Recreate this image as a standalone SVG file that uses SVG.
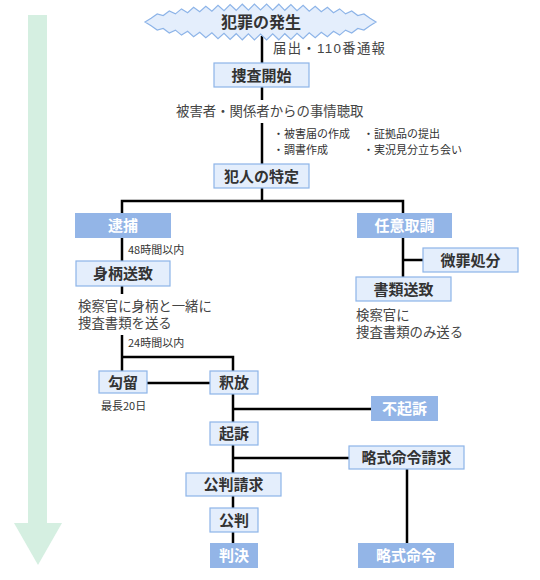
<svg xmlns="http://www.w3.org/2000/svg" width="540" height="580" viewBox="0 0 540 580">
<style>
.lt{fill:#E4EEFC;stroke:#8DB4E8;stroke-width:1.2}
.dk{fill:#93B5E7;stroke:none}
.lbl{font-family:"Noto Sans CJK JP","Noto Sans",sans-serif;font-size:15px;font-weight:bold;text-anchor:middle;fill:#333}
.wl{font-family:"Noto Sans CJK JP","Noto Sans",sans-serif;font-size:15px;font-weight:bold;text-anchor:middle;fill:#fff}
.tx{font-family:"Liberation Sans","Noto Sans CJK JP",sans-serif;font-size:13.4px;fill:#444}
.sm{font-family:"Noto Sans CJK JP","Noto Sans",sans-serif;font-size:11px;fill:#333}
.ln{stroke:#000;stroke-width:2.5;fill:none}
</style>
<g id="timeline-arrow">
<rect x="28" y="15" width="19" height="508" fill="#D5EFE1"/>
<polygon points="14,523 62,523 38,565" fill="#D5EFE1"/>
</g>
<g id="connectors" class="ln">
<line x1="262" y1="36" x2="262" y2="63"/>
<line x1="262" y1="87" x2="262" y2="100"/>
<line x1="262" y1="123" x2="262" y2="164"/>
<line x1="262" y1="188" x2="262" y2="201"/>
<polyline points="122,213 122,201 403,201 403,213"/>
<line x1="122" y1="238" x2="122" y2="261"/>
<line x1="122" y1="286" x2="122" y2="294"/>
<line x1="122" y1="335" x2="122" y2="371"/>
<polyline points="122,357 233,357 233,371"/>
<line x1="147" y1="383" x2="210" y2="383"/>
<line x1="233" y1="394" x2="233" y2="422"/>
<line x1="233" y1="409" x2="371" y2="409"/>
<line x1="233" y1="445" x2="233" y2="473"/>
<line x1="233" y1="458" x2="349" y2="458"/>
<line x1="233" y1="496" x2="233" y2="508"/>
<line x1="233" y1="532" x2="233" y2="543"/>
<line x1="407" y1="469" x2="407" y2="543"/>
<line x1="403" y1="238" x2="403" y2="277"/>
<line x1="403" y1="260" x2="423" y2="260"/>
</g>
<g id="hassei">
<polygon class="lt" points="145,22 151.1,18.2 157.2,14 163.2,15.5 169.3,11 175.4,13.9 181.5,8.9 187.6,12.7 193.6,7.3 199.7,11.8 205.8,6.2 211.9,11.1 218,5.3 224,10.6 230.1,4.6 236.2,10.3 242.3,4.2 248.4,10.1 254.4,4 260.5,10 266.6,4 272.7,10.1 278.8,4.2 284.8,10.3 290.9,4.6 297,10.6 303.1,5.3 309.2,11.1 315.2,6.2 321.3,11.8 327.4,7.3 333.5,12.7 339.6,8.9 345.6,13.9 351.7,11 357.8,15.5 363.9,14 370,18.2 376,22 370,25.8 363.9,30 357.8,28.5 351.7,33 345.6,30.1 339.6,35.1 333.5,31.3 327.4,36.7 321.3,32.2 315.2,37.8 309.2,32.9 303.1,38.7 297,33.4 290.9,39.4 284.8,33.7 278.8,39.8 272.7,33.9 266.6,40 260.5,34 254.4,40 248.4,33.9 242.3,39.8 236.2,33.7 230.1,39.4 224,33.4 218,38.7 211.9,32.9 205.8,37.8 199.7,32.2 193.6,36.7 187.6,31.3 181.5,35.1 175.4,30.1 169.3,33 163.2,28.5 157.2,30 151.1,25.8"/>
<text class="lbl" x="261" y="28" style="font-size:16px">犯罪の発生</text>
</g>
<text class="tx" x="273" y="53" textLength="112">届出・110番通報</text>
<g id="sousa-kaishi">
<rect class="lt" x="214" y="63" width="95" height="24"/>
<text class="lbl" x="261.5" y="80.5">捜査開始</text>
</g>
<text class="tx" x="176" y="116">被害者・関係者からの事情聴取</text>
<text class="sm" x="273" y="138">・被害届の作成</text>
<text class="sm" x="273" y="154">・調書作成</text>
<text class="sm" x="363" y="138">・証拠品の提出</text>
<text class="sm" x="363" y="154">・実況見分立ち会い</text>
<g id="hannin-tokutei">
<rect class="lt" x="214" y="164" width="95" height="24"/>
<text class="lbl" x="261.5" y="181.5">犯人の特定</text>
</g>
<g id="taiho">
<rect class="dk" x="75" y="213" width="96" height="25"/>
<text class="wl" x="123" y="231">逮捕</text>
</g>
<g id="nini-torishirabe">
<rect class="dk" x="357" y="213" width="95" height="25"/>
<text class="wl" x="404.5" y="231">任意取調</text>
</g>
<text class="sm" x="128" y="254">48時間以内</text>
<g id="migara-souchi">
<rect class="lt" x="76" y="261" width="94" height="25"/>
<text class="lbl" x="123" y="279">身柄送致</text>
</g>
<text class="tx" x="78" y="311">検察官に身柄と一緒に</text>
<text class="tx" x="78" y="328">捜査書類を送る</text>
<text class="sm" x="128" y="347">24時間以内</text>
<g id="bizai-shobun">
<rect class="lt" x="423" y="248" width="95" height="24"/>
<text class="lbl" x="470.5" y="265.5">微罪処分</text>
</g>
<g id="shorui-souchi">
<rect class="lt" x="356" y="277" width="95" height="24"/>
<text class="lbl" x="403.5" y="294.5">書類送致</text>
</g>
<text class="tx" x="356" y="320">検察官に</text>
<text class="tx" x="356" y="337">捜査書類のみ送る</text>
<g id="kouryu">
<rect class="lt" x="99" y="371" width="48" height="22"/>
<text class="lbl" x="123" y="387.5">勾留</text>
</g>
<text class="sm" x="101" y="410">最長20日</text>
<g id="shakuhou">
<rect class="lt" x="210" y="371" width="48" height="23"/>
<text class="lbl" x="234" y="388">釈放</text>
</g>
<g id="fukiso">
<rect class="dk" x="371" y="396" width="67" height="25"/>
<text class="wl" x="404.5" y="414">不起訴</text>
</g>
<g id="kiso">
<rect class="lt" x="210" y="422" width="48" height="23"/>
<text class="lbl" x="234" y="439">起訴</text>
</g>
<g id="ryakushiki-seikyu">
<rect class="lt" x="349" y="446" width="115" height="23"/>
<text class="lbl" x="406.5" y="463">略式命令請求</text>
</g>
<g id="kouhan-seikyu">
<rect class="lt" x="186" y="473" width="95" height="23"/>
<text class="lbl" x="233.5" y="490">公判請求</text>
</g>
<g id="kouhan">
<rect class="lt" x="210" y="508" width="48" height="24"/>
<text class="lbl" x="234" y="525.5">公判</text>
</g>
<g id="hanketsu">
<rect class="dk" x="210" y="543" width="48" height="25"/>
<text class="wl" x="234" y="561">判決</text>
</g>
<g id="ryakushiki-meirei">
<rect class="dk" x="358" y="543" width="96" height="25"/>
<text class="wl" x="406" y="561">略式命令</text>
</g>
</svg>
